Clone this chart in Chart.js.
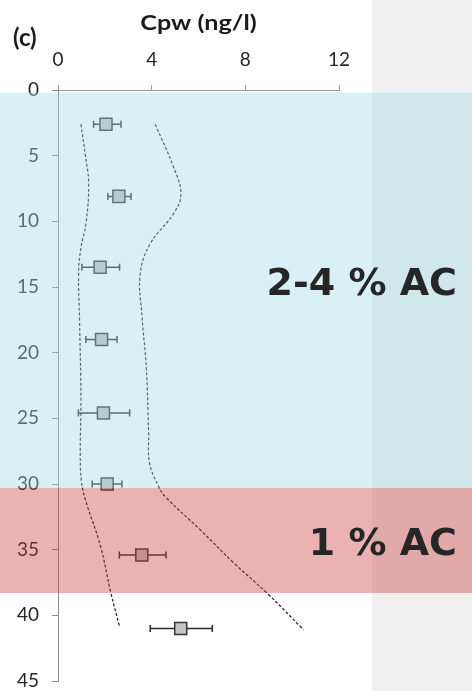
<!DOCTYPE html>
<html>
<head>
<meta charset="utf-8">
<script src="https://cdn.jsdelivr.net/npm/chart.js@4.4.1/dist/chart.umd.min.js"></script>
<style>
  html, body { margin: 0; padding: 0; background: #f0f0f0; }
  #wrap { position: relative; width: 472px; height: 691px; }
</style>
</head>
<body>
<div id="wrap"><canvas id="c" width="472" height="691"></canvas></div>
<script>
// Porewater concentration profile with depth
const depths   = [2.6, 8.1, 13.5, 19.0, 24.6, 30.0, 35.4, 41.0];
const cpw      = [2.05, 2.60, 1.80, 1.86, 1.94, 2.10, 3.58, 5.24];
const cpwLow   = [1.52, 2.13, 1.02, 1.19, 0.87, 1.46, 2.62, 3.94];
const cpwHigh  = [2.69, 3.12, 2.63, 2.52, 3.06, 2.73, 4.61, 6.59];

// Lower and upper envelope curves
const lowerDepth = [2.6, 5.0, 7.1, 10.1, 12.0, 13.9, 17.5, 23.6, 27.6, 29.8, 31.2, 34.7, 38.3, 40.8];
const lowerCpw   = [0.98, 1.17, 1.31, 1.20, 0.98, 0.88, 0.92, 0.98, 0.95, 1.00, 1.17, 1.81, 2.26, 2.62];
const upperDepth = [2.6, 5.9, 7.9, 9.4, 11.7, 14.0, 17.3, 21.1, 26.1, 28.4, 30.2, 31.0, 33.5, 36.0, 38.3, 41.1];
const upperCpw   = [4.15, 4.94, 5.25, 4.94, 3.94, 3.51, 3.59, 3.77, 3.87, 3.91, 4.30, 4.60, 6.08, 7.50, 8.92, 10.49];

// Amendment zones (depth ranges)
const zoneNames = ['2-4 % AC', '1 % AC'];
const zoneTop    = [0.2, 30.3];
const zoneBottom = [30.3, 38.3];

const xTicks = [0, 4, 8, 12];
const yTicks = [0, 5, 10, 15, 20, 25, 30, 35, 40, 45];

const pts = depths.map((d, i) => ({ x: cpw[i], y: d }));
const lowerPts = lowerDepth.map((d, i) => ({ x: lowerCpw[i], y: d }));
const upperPts = upperDepth.map((d, i) => ({ x: upperCpw[i], y: d }));

const pageBg = {
  id: 'pageBg',
  beforeDraw(chart) {
    const ctx = chart.ctx;
    ctx.save();
    ctx.fillStyle = '#ffffff';
    ctx.fillRect(0, 0, 372, chart.height);
    ctx.fillStyle = '#f0f0f0';
    ctx.fillRect(372, 0, chart.width - 372, chart.height);
    ctx.restore();
  }
};

const errorBars = {
  id: 'errorBars',
  beforeDatasetsDraw(chart) {
    const ctx = chart.ctx;
    const xs = chart.scales.x, ys = chart.scales.y;
    ctx.save();
    ctx.strokeStyle = '#2a2a2a';
    ctx.lineWidth = 1.5;
    depths.forEach((d, i) => {
      const y = ys.getPixelForValue(d);
      const x0 = xs.getPixelForValue(cpwLow[i]);
      const x1 = xs.getPixelForValue(cpwHigh[i]);
      ctx.beginPath();
      ctx.moveTo(x0, y); ctx.lineTo(x1, y);
      ctx.moveTo(x0, y - 3.5); ctx.lineTo(x0, y + 3.5);
      ctx.moveTo(x1, y - 3.5); ctx.lineTo(x1, y + 3.5);
      ctx.stroke();
    });
    ctx.restore();
  }
};

const zones = {
  id: 'zones',
  afterDraw(chart) {
    const ctx = chart.ctx;
    const xs = chart.scales.x, ys = chart.scales.y;
    const fills = ['rgba(160,217,230,0.4)', 'rgba(205,62,62,0.4)'];
    const baselines = [295, 555];
    ctx.save();
    zoneNames.forEach((name, i) => {
      const t = ys.getPixelForValue(zoneTop[i]);
      const b = ys.getPixelForValue(zoneBottom[i]);
      ctx.fillStyle = fills[i];
      ctx.fillRect(0, t, chart.width, b - t);
    });
    ctx.fillStyle = '#262626';
    ctx.font = 'bold 38px "DejaVu Sans"';
    ctx.textAlign = 'right';
    ctx.textBaseline = 'alphabetic';
    zoneNames.forEach((name, i) => ctx.fillText(name, 457, baselines[i]));

    // axis title, slightly widened
    ctx.fillStyle = '#1a1a1a';
    ctx.font = 'bold 21px Lato';
    ctx.textAlign = 'center';
    ctx.save();
    ctx.translate((xs.left + xs.right) / 2, 30);
    ctx.scale(1.2, 1);
    ctx.fillText('Cpw (ng/l)', 0, 0);
    ctx.restore();

    // panel letter
    ctx.font = 'bold 24px Lato';
    ctx.textAlign = 'left';
    ctx.fillText('(c)', 13, 46);
    ctx.restore();
  }
};

new Chart(document.getElementById('c'), {
  type: 'scatter',
  data: {
    datasets: [
      {
        data: pts,
        pointStyle: 'rect',
        pointRadius: 8.5,
        pointHoverRadius: 8.5,
        backgroundColor: '#c4c4c4',
        borderColor: '#333333',
        borderWidth: 1.5
      },
      {
        data: lowerPts,
        showLine: true,
        tension: 0.4,
        borderColor: '#1e1e1e',
        borderWidth: 1.2,
        borderDash: [3, 2],
        pointRadius: 0,
        fill: false
      },
      {
        data: upperPts,
        showLine: true,
        tension: 0.4,
        borderColor: '#1e1e1e',
        borderWidth: 1.2,
        borderDash: [3, 2],
        pointRadius: 0,
        fill: false
      }
    ]
  },
  options: {
    responsive: false,
    animation: false,
    events: [],
    layout: { padding: { left: 0, right: 133, top: 0, bottom: 10 } },
    plugins: { legend: { display: false }, tooltip: { enabled: false } },
    scales: {
      x: {
        type: 'linear',
        position: 'top',
        min: 0, max: 12,
        afterBuildTicks(s) { s.ticks = xTicks.map(v => ({ value: v })); },
        ticks: { color: '#262626', font: { family: 'Lato', size: 19 }, padding: 14 },
        grid: { drawOnChartArea: false, drawTicks: true, tickLength: 5, color: '#9a9a9a' },
        border: { color: '#9a9a9a', width: 1 },
        afterFit(s) { s.height = 90; }
      },
      y: {
        type: 'linear',
        reverse: true,
        min: 0, max: 45,
        afterBuildTicks(s) { s.ticks = yTicks.map(v => ({ value: v })); },
        ticks: { color: '#262626', font: { family: 'Lato', size: 19 }, padding: 13 },
        grid: { drawOnChartArea: false, drawTicks: true, tickLength: 6, color: '#8a8a8a' },
        border: { color: '#8a8a8a', width: 1 },
        afterFit(s) { s.width = 58; s.paddingTop = 0; s.paddingBottom = 0; }
      }
    }
  },
  plugins: [pageBg, errorBars, zones]
});
</script>
</body>
</html>
